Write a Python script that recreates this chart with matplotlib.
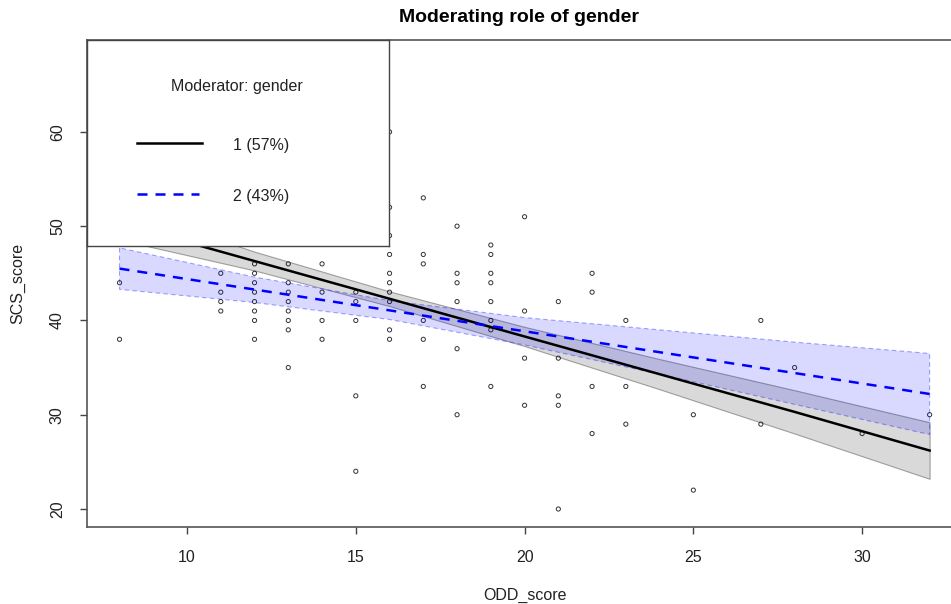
import matplotlib
matplotlib.use("Agg")
import matplotlib.pyplot as plt

plt.rcParams['font.family'] = ['Liberation Sans', 'DejaVu Sans']

# observed points (ODD_score, SCS_score)
odd_score = [8, 8,
             11, 11, 11, 11,
             12, 12, 12, 12, 12, 12, 12, 12,
             13, 13, 13, 13, 13, 13, 13, 13,
             14, 14, 14, 14,
             15, 15, 15, 15, 15,
             16, 16, 16, 16, 16, 16, 16, 16, 16, 16,
             17, 17, 17, 17, 17, 17,
             18, 18, 18, 18, 18, 18,
             19, 19, 19, 19, 19, 19, 19, 19,
             20, 20, 20, 20,
             21, 21, 21, 21, 21,
             22, 22, 22, 22,
             23, 23, 23,
             25, 25,
             27, 27,
             28, 30, 32]
scs_score = [44, 38,
             45, 43, 42, 41,
             46, 45, 44, 43, 42, 41, 40, 38,
             46, 44, 43, 42, 41, 40, 39, 35,
             46, 43, 40, 38,
             43, 42, 40, 32, 24,
             60, 52, 49, 47, 45, 44, 43, 42, 39, 38,
             53, 47, 46, 40, 38, 33,
             50, 45, 44, 42, 37, 30,
             48, 47, 45, 44, 42, 40, 39, 33,
             51, 41, 36, 31,
             42, 36, 32, 31, 20,
             45, 43, 33, 28,
             40, 33, 29,
             30, 22,
             40, 29,
             35, 28, 30]

# predicted lines and confidence bands
grid_x = [8, 12, 16, 20, 24, 28, 32]
fit_1 = [50.3, 46.3, 42.3, 38.3, 34.3, 30.3, 26.2]
lo_1 = [48.55, 45.3, 41.52, 37.28, 32.7, 28.0, 23.2]
hi_1 = [52.05, 47.3, 43.08, 39.32, 35.9, 32.6, 29.2]
fit_2 = [45.5, 43.28, 41.07, 38.85, 36.63, 34.42, 32.2]
lo_2 = [43.3, 41.9, 40.1, 37.4, 34.3, 31.1, 27.9]
hi_2 = [47.7, 44.6, 42.1, 40.3, 39.0, 37.7, 36.5]

fs = 11.5

fig = plt.figure(figsize=(9.51, 6.04), dpi=100)
ax = fig.add_axes([0.0916, 0.1267, 0.92, 0.8079])

ax.scatter(odd_score, scs_score, s=9, facecolors='none', edgecolors='#333333',
           linewidths=0.7, zorder=2)

ax.fill_between(grid_x, lo_1, hi_1, facecolor=(0, 0, 0, 0.15),
                edgecolor=(0, 0, 0, 0.33), linewidth=0.8, zorder=3)
ax.fill_between(grid_x, lo_2, hi_2, facecolor=(0, 0, 1, 0.15),
                edgecolor=(0, 0, 1, 0.35), linewidth=0.8, linestyle=(0, (4, 3)), zorder=3)

ax.plot(grid_x, fit_1, color='black', lw=1.8, zorder=4)
ax.plot(grid_x, fit_2, color='blue', lw=1.8, dashes=(4, 3.2), zorder=4)

ax.set_xlim(7.04, 32.96)
ax.set_ylim(18.04, 69.8)
ax.set_xticks([10, 15, 20, 25, 30])
ax.set_yticks([20, 30, 40, 50, 60])
ax.tick_params(length=5, width=1, color='#444444', labelsize=fs, pad=11,
               labelcolor='#222222')
for lbl in ax.get_yticklabels():
    lbl.set_rotation(90)
    lbl.set_va('center')
for s in ax.spines.values():
    s.set_color('#555555')
    s.set_linewidth(1.2)

fig.text(525 / 951, 1 - 595 / 604, 'ODD_score', ha='center', va='center',
         fontsize=fs, color='#222222')
fig.text(18 / 951, 1 - 283 / 604, 'SCS_score', ha='center', va='center',
         rotation=90, fontsize=fs, color='#222222')
fig.text(519 / 951, 1 - 17 / 604, 'Moderating role of gender', ha='center',
         va='center', fontsize=14, fontweight='bold')

# legend box
lax = fig.add_axes([0.0918, 0.5919, 0.3176, 0.3427])
lax.set_xlim(0, 1)
lax.set_ylim(0, 1)
lax.set_xticks([])
lax.set_yticks([])
lax.set_facecolor('white')
for s in lax.spines.values():
    s.set_color('#444444')
    s.set_linewidth(1.0)
lax.text(0.495, 0.775, 'Moderator: gender', ha='center', va='center',
         fontsize=fs, color='#222222')
lax.plot([0.166, 0.379], [0.501, 0.501], color='black', lw=1.8)
lax.text(0.483, 0.49, '1 (57%)', ha='left', va='center', fontsize=fs, color='#222222')
lax.plot([0.166, 0.37], [0.252, 0.252], color='blue', lw=1.8, dashes=(4, 3.2))
lax.text(0.483, 0.24, '2 (43%)', ha='left', va='center', fontsize=fs, color='#222222')

fig.savefig('out.png', dpi=100)
